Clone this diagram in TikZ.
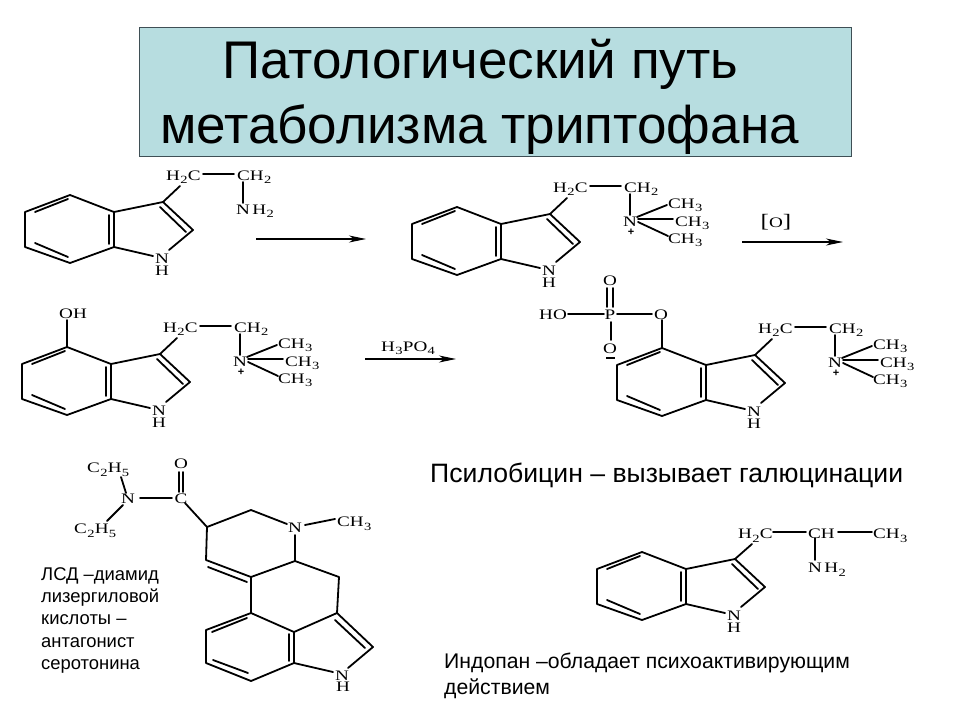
\documentclass[tikz,border=0pt]{standalone}
\usepackage{fontspec}
\setmainfont{Liberation Sans}
\newfontfamily\chemfont[FakeStretch=1.32]{Liberation Serif}
\usetikzlibrary{arrows.meta}
\definecolor{titlefill}{HTML}{B7DDE0}
\definecolor{titleline}{HTML}{3F4F55}
\newcommand{\sbs}[1]{\kern0.3pt\raisebox{-0.6ex}{\fontsize{11}{11}\selectfont #1}\kern0.3pt}
\tikzset{
  x=1pt,y=-1pt,
  bond/.style={line width=1.8pt,line cap=round,line join=round},
  lab/.style={font=\chemfont\fontsize{14.5}{15}\selectfont,inner sep=0pt,anchor=base west},
  labc/.style={font=\chemfont\fontsize{14.5}{15}\selectfont,inner sep=0pt,anchor=base},
  rxn/.style={line width=1.2pt,-{Stealth[length=17pt,width=7pt,inset=5pt]}},
  ttl/.style={font=\fontsize{53}{53}\selectfont,inner sep=0pt,anchor=base west},
  note/.style={inner sep=0pt,anchor=base west},
  lsdnote/.style={note,font=\fontsize{18.4}{19}\selectfont},
  indnote/.style={note,font=\fontsize{21.2}{22}\selectfont},
}
% indole skeleton with named atoms, prefix #1, shift (#2,#3)
\newcommand{\indole}[3]{%
 \begin{scope}[shift={(#2,#3)}]
  \coordinate (#1c4) at (70,195);
  \coordinate (#1c5) at (25,212);
  \coordinate (#1c6) at (25,247);
  \coordinate (#1c7) at (70,263);
  \coordinate (#1c7a) at (114,247);
  \coordinate (#1c3a) at (114,212);
  \coordinate (#1c3) at (163,202);
  \coordinate (#1c2) at (193,230);
  \coordinate (#1na) at (153,256);
  \coordinate (#1nb) at (169,250);
  \coordinate (#1ia) at (35,212);
  \coordinate (#1ib) at (68,199);
  \coordinate (#1ic) at (35,243);
  \coordinate (#1id) at (68,257);
  \coordinate (#1ie) at (109,215);
  \coordinate (#1if) at (109,244);
  \coordinate (#1ig) at (160,207);
  \coordinate (#1ih) at (186,232);
  \draw[bond] (#1c4)--(#1c5)--(#1c6)--(#1c7)--(#1c7a)--(#1c3a)--(#1c4);
  \draw[bond] (#1c3a)--(#1c3)--(#1c2)--(#1nb);
  \draw[bond] (#1c7a)--(#1na);
  \draw[bond] (#1ia)--(#1ib);
  \draw[bond] (#1ic)--(#1id);
  \draw[bond] (#1ie)--(#1if);
  \draw[bond] (#1ig)--(#1ih);
  \node[labc] (#1N) at (162,263) {N};
  \node[labc] (#1H) at (162,275) {H};
 \end{scope}}
% ethyl chain: H2C - CH2
\newcommand{\chain}[3]{%
 \begin{scope}[shift={(#2,#3)}]
  \node[lab] (#1hc) at (166,180) {H\sbs{2}C};
  \node[lab] (#1ch) at (237,180) {CH\sbs{2}};
  \coordinate (#1e1) at (180,186);
  \coordinate (#1e2) at (203,174);
  \coordinate (#1e3) at (234,174);
  \coordinate (#1c3x) at (163,202);
  \draw[bond] (#1c3x)--(#1e1);
  \draw[bond] (#1e2)--(#1e3);
  \coordinate (#1e4) at (243,182);
  \coordinate (#1e5) at (243,203);
  \draw[bond] (#1e4)--(#1e5);
 \end{scope}}
% trimethylammonium
\newcommand{\quat}[3]{%
 \begin{scope}[shift={(#2,#3)}]
  \node[labc] (#1qn) at (243,214) {N};
  \node[labc,font=\bfseries\fontsize{11}{11}\selectfont] (#1qp) at (244,223) {+};
  \node[lab] (#1m1) at (281,196) {CH\sbs{3}};
  \node[lab] (#1m2) at (288,214) {CH\sbs{3}};
  \node[lab] (#1m3) at (281,231) {CH\sbs{3}};
  \coordinate (#1qa) at (250,205);
  \coordinate (#1qb) at (280,193);
  \coordinate (#1qc) at (251,207);
  \coordinate (#1qd) at (286,207);
  \coordinate (#1qe) at (251,210);
  \coordinate (#1qf) at (281,224);
  \draw[bond] (#1qa)--(#1qb);
  \draw[bond] (#1qc)--(#1qd);
  \draw[bond] (#1qe)--(#1qf);
 \end{scope}}
\begin{document}
\begin{tikzpicture}
\useasboundingbox (0,0) rectangle (960,720);
\fill[white] (0,0) rectangle (960,720);
% title
\node[draw=titleline,fill=titlefill,line width=1.2pt,minimum width=712pt,minimum height=129pt,inner sep=0pt,anchor=north west] (tbox) at (139,27) {};
\node[ttl] (t1) at (222,78) {Патологический путь};
\node[ttl] (t2) at (160,143) {метаболизма триптофана};
% molecule 1
\indole{a}{0}{0}
\chain{a}{0}{0}
\node[lab] (anh) at (236,214) {N\,H\sbs{2}};
% molecule 2
\indole{b}{387}{12}
\chain{b}{387}{12}
\quat{b}{387}{12}
% arrows row 1
\coordinate (ar1) at (256,239); \coordinate (ar2) at (366,239);
\draw[rxn] (ar1)--(ar2);
\coordinate (ar3) at (742,242); \coordinate (ar4) at (843,242);
\draw[rxn] (ar3)--(ar4);
\node[labc] (oxo) at (776,227) {{\fontsize{19}{19}\selectfont[}O{\fontsize{19}{19}\selectfont]}};
% molecule 3
\indole{c}{-3}{152}
\chain{c}{-3}{152}
\quat{c}{-3}{152}
\node[lab] (coh) at (59,318) {OH};
\coordinate (coh1) at (67,320);
\draw[bond] (coh1)--(cc4);
% arrow 3
\coordinate (ar5) at (365,359); \coordinate (ar6) at (456,359);
\draw[rxn] (ar5)--(ar6);
\node[lab] (hpo) at (381,351) {H\sbs{3}PO\sbs{4}};
% molecule 4
\indole{d}{592}{153}
\chain{d}{592}{153}
\quat{d}{592}{153}
\node[labc] (pp) at (610,319) {P};
\node[lab] (pho) at (539,319) {HO};
\node[labc] (po1) at (661,319) {O};
\node[labc] (po2) at (610,285) {O};
\node[labc] (po3) at (610,353) {O};
\coordinate (pm1) at (606,358); \coordinate (pm2) at (615,358);
\draw[line width=1.2pt] (pm1)--(pm2);
\coordinate (p1) at (568,314); \coordinate (p2) at (604,314);
\coordinate (p3) at (617,314); \coordinate (p4) at (652,314);
\coordinate (p5) at (662,320);
\coordinate (p6) at (607,288); \coordinate (p7) at (607,307);
\coordinate (p8) at (613,288); \coordinate (p9) at (613,307);
\coordinate (p10) at (611,322); \coordinate (p11) at (611,340);
\draw[bond] (p1)--(p2);
\draw[bond] (p3)--(p4);
\draw[bond] (p5)--(dc4);
\draw[bond] (p6)--(p7);
\draw[bond] (p8)--(p9);
\draw[bond] (p10)--(p11);
% text
\node[note,font=\fontsize{26.6}{27}\selectfont] (ps) at (430,482) {Псилобицин – вызывает галюцинации};
% LSD
\node[lab] (l1) at (87,472) {C\sbs{2}H\sbs{5}};
\node[lab] (l2) at (74,533) {C\sbs{2}H\sbs{5}};
\node[labc] (ln) at (128,503) {N};
\node[labc] (lc) at (181,503) {C};
\node[labc] (lo) at (181,468) {O};
\node[labc] (lnn) at (295,532) {N};
\node[lab] (lm) at (337,526) {CH\sbs{3}};
\node[labc] (lnh) at (342,680) {N};
\node[labc] (lhh) at (343,691) {H};
\foreach \n/\x/\y in {la/121/477,lb/126/493,lc1/123/505,ld/107/521,le/140/498,lf/172/498,
  lg/179/472,lh/179/492,li/183/472,lj/183/492,lk/185/503,A/207/527,B/251/510,lq/287/524,
  lr/305/525,ls/335/519,lt/295/535,C/295/561,D/251/577,E/206/560,F/208/567,G/247/582,
  H/339/577,J/337/613,K/251/613,L/206/630,M/206/663,Q/251/681,R/294/663,S/294/632,
  T/373/647,U/348/668,V/333/672,W/212/632,X/247/618,Y/213/660,Z/248/673,AA/289/634,AB/289/661,AC/335/620,AD/365/648}
  {\coordinate (\n) at (\x,\y);}
\draw[bond] (la)--(lb);
\draw[bond] (lc1)--(ld);
\draw[bond] (le)--(lf);
\draw[bond] (lg)--(lh);
\draw[bond] (li)--(lj);
\draw[bond] (lk)--(A)--(B)--(lq);
\draw[bond] (lr)--(ls);
\draw[bond] (lt)--(C)--(D)--(E)--(A);
\draw[bond] (F)--(G);
\draw[bond] (C)--(H)--(J)--(S)--(K)--(D);
\draw[bond] (K)--(L)--(M)--(Q)--(R)--(S);
\draw[bond] (J)--(T)--(U);
\draw[bond] (R)--(V);
\draw[bond] (W)--(X);
\draw[bond] (Y)--(Z);
\draw[bond] (AA)--(AB);
\draw[bond] (AC)--(AD);
\node[lsdnote] (n1) at (41,580) {ЛСД –диамид};
\node[lsdnote] (n2) at (41,602) {лизергиловой};
\node[lsdnote] (n3) at (41,624) {кислоты –};
\node[lsdnote] (n4) at (41,647) {антагонист};
\node[lsdnote] (n5) at (41,669) {серотонина};
% molecule 5
\indole{e}{572}{357}
\node[lab] (ehc) at (738,538) {H\sbs{2}C};
\node[lab] (ech) at (808,538) {CH};
\node[lab] (em) at (873,538) {CH\sbs{3}};
\node[lab] (enh) at (808,572) {N\,H\sbs{2}};
\coordinate (e1) at (752,544); \coordinate (e2) at (773,532);
\coordinate (e3) at (806,532); \coordinate (e4) at (838,532);
\coordinate (e5) at (872,532); \coordinate (e6) at (815,538);
\coordinate (e7) at (815,560);
\draw[bond] (ec3)--(e1);
\draw[bond] (e2)--(e3);
\draw[bond] (e4)--(e5);
\draw[bond] (e6)--(e7);
\node[indnote] (ind1) at (444,668) {Индопан –обладает психоактивирующим};
\node[indnote] (ind2) at (444,694) {действием};
\end{tikzpicture}
\end{document}
